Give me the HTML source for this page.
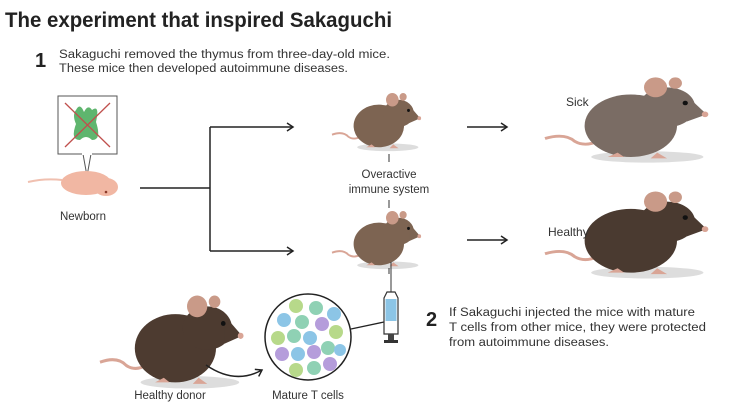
<!DOCTYPE html>
<html><head><meta charset="utf-8"><style>
html,body{margin:0;padding:0;background:#fff;}
svg{display:block;font-family:"Liberation Sans",sans-serif;}
</style></head><body>
<svg width="733" height="410" viewBox="0 0 733 410" xmlns="http://www.w3.org/2000/svg">
<defs>
<marker id="ah" markerWidth="10" markerHeight="10" refX="8" refY="5" orient="auto" markerUnits="userSpaceOnUse">
<path d="M2,1 L8,5 L2,9" fill="none" stroke="#222" stroke-width="1.5"/>
</marker>
<g id="mouse">
<ellipse cx="62" cy="57" rx="34" ry="4" fill="#ddd"/>
<path d="M0,44 Q12,40 18,46 Q24,50 32,46" fill="none" stroke="#d9a596" stroke-width="2"/>
<ellipse cx="52" cy="35" rx="28" ry="22" fill="currentColor"/>
<ellipse cx="74" cy="22" rx="17" ry="14" fill="currentColor"/>
<path d="M86,14 L98,27 L86,32 Z" fill="currentColor"/>
<circle cx="97" cy="27" r="2" fill="#d9a596"/>
<circle cx="67" cy="8" r="7" fill="#c99a88"/>
<circle cx="79" cy="5" r="4" fill="#c99a88"/>
<circle cx="85" cy="19" r="1.6" fill="#111"/>
<path d="M44,54 l-6,3 h10 Z M68,54 l-4,4 h10 Z" fill="#d9a596"/>
</g>
</defs>

<text x="5" y="27" font-size="21" font-weight="bold" fill="#222" textLength="387" lengthAdjust="spacingAndGlyphs">The experiment that inspired Sakaguchi</text>

<text x="35" y="67" font-size="20" font-weight="bold" fill="#222">1</text>
<text x="59" y="58" font-size="11.5" fill="#333" textLength="331" lengthAdjust="spacingAndGlyphs">Sakaguchi removed the thymus from three-day-old mice.</text>
<text x="59" y="72" font-size="11.5" fill="#333" textLength="289" lengthAdjust="spacingAndGlyphs">These mice then developed autoimmune diseases.</text>

<rect x="58" y="96" width="59" height="58" fill="#fff" stroke="#555" stroke-width="1"/>
<path d="M83,154 L87,176 L91,154" fill="#fff" stroke="#555" stroke-width="1"/>
<rect x="82" y="153" width="10" height="2" fill="#fff"/>
<path d="M76,110 Q80,102 84,112 Q88,104 92,110 Q100,104 96,122 Q102,140 92,140 Q86,134 80,140 Q70,140 76,124 Q72,115 76,110Z" fill="#5fb56e"/>
<line x1="65" y1="103" x2="110" y2="147" stroke="#c0504d" stroke-width="1.3"/>
<line x1="110" y1="103" x2="65" y2="147" stroke="#c0504d" stroke-width="1.3"/>
<path d="M28,182 Q45,178 62,180" fill="none" stroke="#f0c0b0" stroke-width="2"/>
<ellipse cx="86" cy="183" rx="25" ry="12" fill="#f1b7a3"/>
<ellipse cx="106" cy="187" rx="12" ry="9" fill="#f1b7a3"/>
<circle cx="106" cy="192" r="1.3" fill="#8a3a2a"/>
<text x="83" y="220" font-size="11.5" fill="#333" text-anchor="middle">Newborn</text>

<path d="M140,188 H210 M210,127 V251" fill="none" stroke="#222" stroke-width="1.5"/>
<path d="M210,127 H293" fill="none" stroke="#222" stroke-width="1.5" marker-end="url(#ah)"/>
<path d="M210,251 H293" fill="none" stroke="#222" stroke-width="1.5" marker-end="url(#ah)"/>
<path d="M467,127 H507" fill="none" stroke="#222" stroke-width="1.5" marker-end="url(#ah)"/>
<path d="M467,240 H507" fill="none" stroke="#222" stroke-width="1.5" marker-end="url(#ah)"/>

<use href="#mouse" transform="translate(332,92) scale(0.9,0.97)" style="color:#7d6452"/>
<use href="#mouse" transform="translate(332,210) scale(0.9,0.97)" style="color:#7d6452"/>
<line x1="389" y1="154" x2="389" y2="162" stroke="#333" stroke-width="1"/>
<text x="389" y="178" font-size="11.5" fill="#333" text-anchor="middle">Overactive</text>
<text x="389" y="193" font-size="11.5" fill="#333" text-anchor="middle">immune system</text>
<line x1="389" y1="200" x2="389" y2="208" stroke="#333" stroke-width="1"/>
<line x1="389" y1="268" x2="389" y2="274" stroke="#333" stroke-width="1"/>

<use href="#mouse" transform="translate(545,76) scale(1.65,1.42)" style="color:#7a6c64"/>
<text x="566" y="106" font-size="12" fill="#333">Sick</text>
<use href="#mouse" transform="translate(545,190) scale(1.65,1.45)" style="color:#4a3a30"/>
<text x="548" y="236" font-size="12" fill="#333">Healthy</text>

<use href="#mouse" transform="translate(100,294) scale(1.45,1.55)" style="color:#4d3b30"/>
<text x="170" y="399" font-size="11.5" fill="#333" text-anchor="middle">Healthy donor</text>
<path d="M206,365 Q235,385 262,370" fill="none" stroke="#222" stroke-width="1.5" marker-end="url(#ah)"/>

<circle cx="308" cy="337" r="43" fill="#fff" stroke="#222" stroke-width="1.5"/>
<g stroke="none">
<circle cx="296" cy="306" r="7" fill="#b7d98a"/><circle cx="316" cy="308" r="7" fill="#8fd1b4"/>
<circle cx="284" cy="320" r="7" fill="#8cc5e6"/><circle cx="302" cy="322" r="7" fill="#8fd1b4"/><circle cx="322" cy="324" r="7" fill="#b59ddb"/><circle cx="334" cy="314" r="7" fill="#8cc5e6"/>
<circle cx="278" cy="338" r="7" fill="#b7d98a"/><circle cx="294" cy="336" r="7" fill="#8fd1b4"/><circle cx="310" cy="338" r="7" fill="#8cc5e6"/><circle cx="336" cy="332" r="7" fill="#b7d98a"/>
<circle cx="282" cy="354" r="7" fill="#b59ddb"/><circle cx="298" cy="354" r="7" fill="#8cc5e6"/><circle cx="314" cy="352" r="7" fill="#b59ddb"/><circle cx="328" cy="348" r="7" fill="#8fd1b4"/><circle cx="340" cy="350" r="6" fill="#8cc5e6"/>
<circle cx="296" cy="370" r="7" fill="#b7d98a"/><circle cx="314" cy="368" r="7" fill="#8fd1b4"/><circle cx="330" cy="364" r="7" fill="#b59ddb"/>
</g>
<text x="308" y="399" font-size="11.5" fill="#333" text-anchor="middle">Mature T cells</text>
<line x1="351" y1="329" x2="384" y2="322" stroke="#222" stroke-width="1.3"/>

<line x1="391" y1="262" x2="391" y2="292" stroke="#333" stroke-width="1"/>
<path d="M387,292 L395,292 L398,298 L398,334 L384,334 L384,298 Z" fill="#fff" stroke="#333" stroke-width="1.2"/>
<rect x="385.5" y="299" width="11" height="22" fill="#8cc5e6"/>
<rect x="388" y="334" width="6" height="6" fill="#444"/>
<rect x="384" y="340" width="14" height="3" fill="#333"/>

<text x="426" y="326" font-size="20" font-weight="bold" fill="#222">2</text>
<text x="449" y="316" font-size="11.5" fill="#333" textLength="246" lengthAdjust="spacingAndGlyphs">If Sakaguchi injected the mice with mature</text>
<text x="449" y="331" font-size="11.5" fill="#333" textLength="257" lengthAdjust="spacingAndGlyphs">T cells from other mice, they were protected</text>
<text x="449" y="346" font-size="11.5" fill="#333" textLength="160" lengthAdjust="spacingAndGlyphs">from autoimmune diseases.</text>
</svg>
</body></html>
